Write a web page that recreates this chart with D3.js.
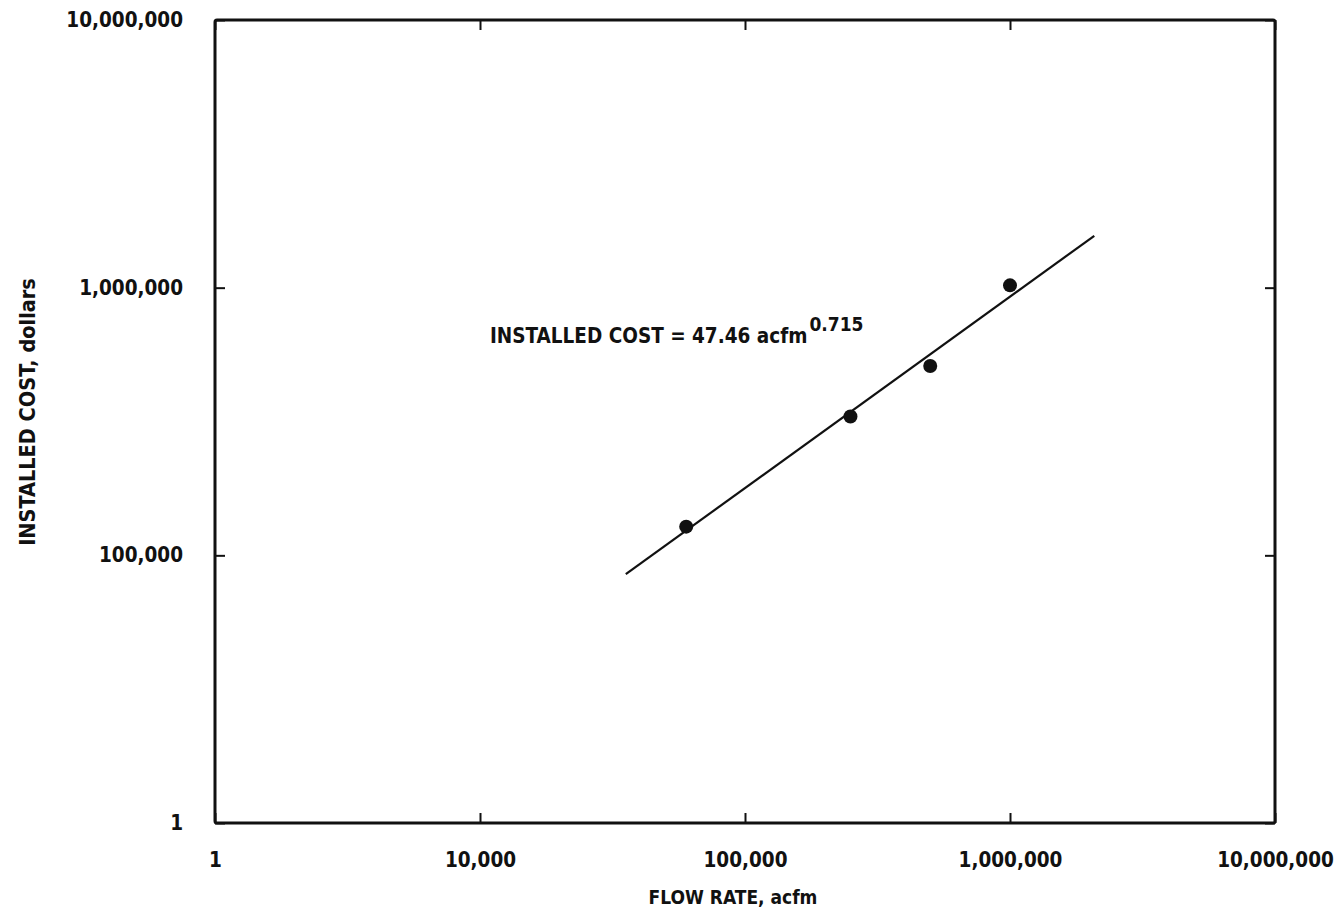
<!DOCTYPE html>
<html>
<head>
<meta charset="utf-8">
<script src="https://cdn.jsdelivr.net/npm/d3@7"></script>
<style>
  html, body { margin: 0; padding: 0; background: #fff; }
  svg { display: block; }
  text { font-family: "DejaVu Sans Condensed", "DejaVu Sans", sans-serif; font-stretch: condensed; font-weight: bold; fill: #111; }
</style>
</head>
<body>
<svg id="chart" width="1343" height="921"></svg>
<script>
// Flow rate (acfm) and installed cost (dollars) of the surveyed units
const flowRate = [60000, 250000, 500000, 1000000];
const installedCost = [128000, 330000, 510000, 1020000];

// Fitted power law: cost = coef * acfm ^ exponent
const fitCoef = 47.46;
const fitExponent = 0.715;
const fitRange = [35500, 2080000];

// Axis ticks and the labels printed under / beside them
const xTickValues = [1e3, 1e4, 1e5, 1e6, 1e7];
const xTickLabels = ["1", "10,000", "100,000", "1,000,000", "10,000,000"];
const yTickValues = [1e4, 1e5, 1e6, 1e7];
const yTickLabels = ["1", "100,000", "1,000,000", "10,000,000"];

const xTitle = "FLOW RATE, acfm";
const yTitle = "INSTALLED COST, dollars";
const eqText = "INSTALLED COST = 47.46 acfm";
const eqExp = "0.715";

const svg = d3.select("#chart");
const plotL = 215, plotR = 1275, plotT = 20, plotB = 823;

const x = d3.scaleLog().domain([1e3, 1e7]).range([plotL, plotR]);
const y = d3.scaleLog().domain([1e4, 1e7]).range([plotB, plotT]);

const fmtX = d => xTickLabels[xTickValues.indexOf(d)];
const fmtY = d => yTickLabels[yTickValues.indexOf(d)];

function styleAxis(g) {
  g.select(".domain").remove();
  g.selectAll(".tick line").attr("stroke", "#111").attr("stroke-width", 2);
  g.selectAll(".tick text").attr("font-size", 20.5).attr("fill", "#111")
    .attr("font-family", null);
}

// Bottom axis with labels, ticks pointing inward
svg.append("g")
  .attr("transform", `translate(0,${plotB})`)
  .call(d3.axisBottom(x).tickValues(xTickValues).tickFormat(fmtX).tickSize(-10).tickPadding(29))
  .call(styleAxis);

// Top axis: inward ticks only
svg.append("g")
  .attr("transform", `translate(0,${plotT})`)
  .call(d3.axisTop(x).tickValues(xTickValues).tickFormat("").tickSize(-10))
  .call(styleAxis);

// Left axis with labels
svg.append("g")
  .attr("transform", `translate(${plotL},0)`)
  .call(d3.axisLeft(y).tickValues(yTickValues).tickFormat(fmtY).tickSize(-10).tickPadding(32))
  .call(styleAxis);

// Right axis: inward ticks only
svg.append("g")
  .attr("transform", `translate(${plotR},0)`)
  .call(d3.axisRight(y).tickValues(yTickValues).tickFormat("").tickSize(-10))
  .call(styleAxis);

// Plot frame
svg.append("rect")
  .attr("x", plotL).attr("y", plotT)
  .attr("width", plotR - plotL).attr("height", plotB - plotT)
  .attr("fill", "none").attr("stroke", "#111").attr("stroke-width", 3)
  .attr("rx", 2);

// Axis titles
svg.append("text")
  .attr("x", 733).attr("y", 904)
  .attr("text-anchor", "middle")
  .attr("font-size", 19)
  .text(xTitle);

svg.append("text")
  .attr("transform", "translate(35,412) rotate(-90)")
  .attr("text-anchor", "middle")
  .attr("font-size", 21.5)
  .text(yTitle);

// Fitted line
const fitLine = d3.line().x(d => x(d)).y(d => y(fitCoef * Math.pow(d, fitExponent)));
svg.append("path")
  .datum(fitRange)
  .attr("d", fitLine)
  .attr("fill", "none").attr("stroke", "#111").attr("stroke-width", 2.2);

// Data points
svg.append("g").selectAll("circle")
  .data(flowRate.map((f, i) => [f, installedCost[i]]))
  .join("circle")
  .attr("cx", d => x(d[0]))
  .attr("cy", d => y(d[1]))
  .attr("r", 7)
  .attr("fill", "#111");

// Equation label with superscript exponent
const eq = svg.append("text")
  .attr("x", 490).attr("y", 343)
  .attr("font-size", 20.5);
eq.append("tspan").text(eqText);
eq.append("tspan").attr("dx", 2).attr("dy", -12).attr("font-size", 19).text(eqExp);
</script>
</body>
</html>
